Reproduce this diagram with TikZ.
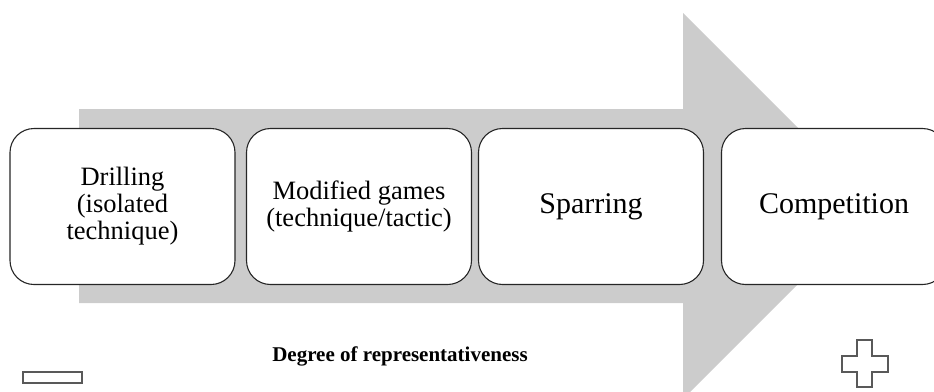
\documentclass[tikz,border=0pt]{standalone}
\usepackage{fontspec}
\setmainfont{Liberation Serif}
\begin{document}
\begin{tikzpicture}[x=1pt,y=-1pt,
  stage/.style={draw=black!85,line width=1.1pt,fill=white,rounded corners=24pt,
    minimum width=225pt,minimum height=156pt,align=center,inner sep=0pt},
  small/.style={font=\fontsize{26.5}{27}\selectfont},
  big/.style={font=\fontsize{30}{33}\selectfont},
  sign/.style={draw=black!65,line width=1.8pt,fill=white}]
\useasboundingbox (0,0) rectangle (934,391);
% grey progression arrow behind the stages
\fill[black!20] (79,109) -- (683,109) -- (683,13) -- (876,206) -- (683,399)
  -- (683,303) -- (79,303) -- cycle;
% the four stages
\node[stage,small] (drill) at (122.5,206.5) {Drilling\\(isolated\\technique)};
\node[stage,small] (mod) at (359,206.5) {Modified games\\(technique/tactic)};
\node[stage,big] (spar) at (591,206.5) {Sparring};
\node[stage,big] (comp) at (834,206.5) {Competition};
% axis caption with minus and plus ends
\node[font=\fontsize{21}{24}\selectfont\bfseries] (deg) at (400,356) {Degree of representativeness};
\draw[sign] (23,372) rectangle (82,383);
\draw[sign] (857,340) -- (872,340) -- (872,356) -- (888,356) -- (888,372) -- (872,372)
  -- (872,387) -- (857,387) -- (857,372) -- (842,372) -- (842,356) -- (857,356) -- cycle;
\end{tikzpicture}
\end{document}
